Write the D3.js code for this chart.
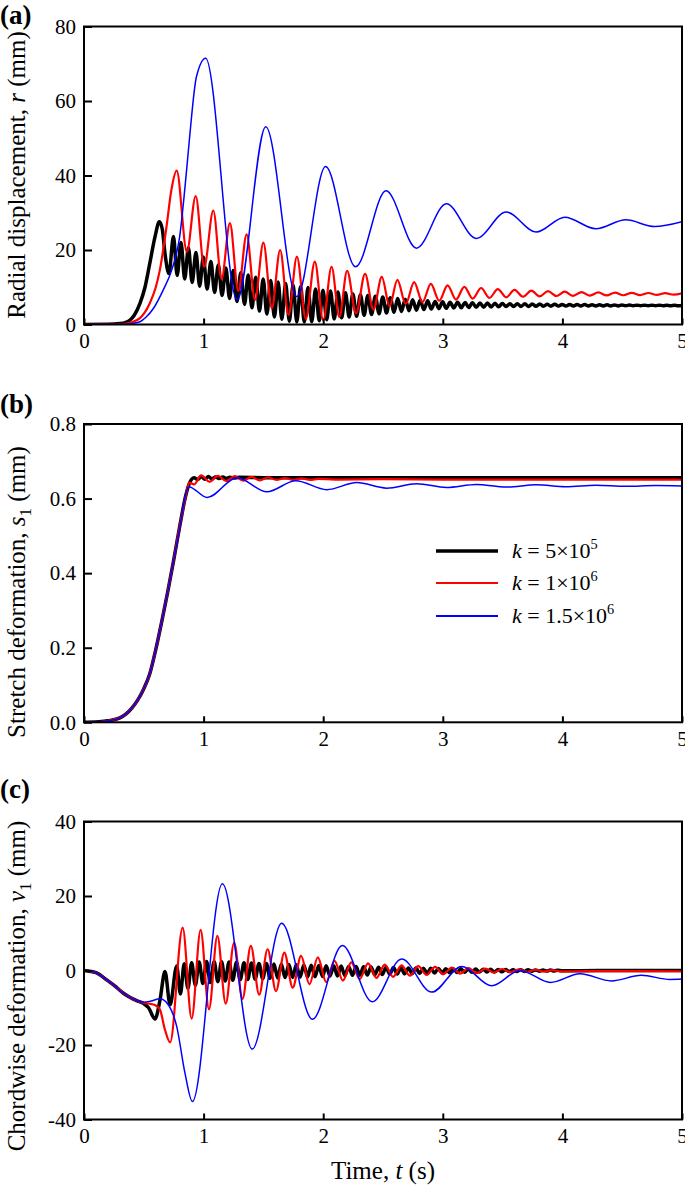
<!DOCTYPE html>
<html><head><meta charset="utf-8">
<script src="https://cdn.jsdelivr.net/npm/d3@7"></script>
<style>
body{margin:0;background:#fff;}
svg{display:block;}
text{font-family:"Liberation Serif","Times New Roman",serif;fill:#000;}
</style>
</head><body>
<svg id="chart" width="685" height="1192"></svg>
<script>
// ---------------- data ----------------
const timeTicks = [0, 1, 2, 3, 4, 5];
const rTicks = [0, 20, 40, 60, 80];
const sTicks = [0, 0.2, 0.4, 0.6, 0.8];
const vTicks = [-40, -20, 0, 20, 40];
const seriesLabels = [
  {pre: "5×10", sup: "5"},
  {pre: "1×10", sup: "6"},
  {pre: "1.5×10", sup: "6"}
];

// (a) radial displacement r (mm) : [t, r]
const rBlack = [[0,0],[0.2,0.05],[0.3,0.25],[0.35,0.6],[0.385,1.2],[0.42,2.5],[0.468,5.7],[0.51,10],[0.55,16.4],[0.594,23.6],[0.63,27.6],[0.655,25.5],[0.677,19.1],[0.71,13.7],
[0.748,23.6],[0.779,13.2],[0.811,22.0],[0.842,12.2],[0.873,20.6],[0.904,11.3],[0.936,19.3],[0.967,10.3],[0.998,18.1],[1.029,9.5],[1.061,16.9],[1.092,8.6],[1.123,16.0],[1.154,7.8],[1.186,15.2],[1.217,7.0],[1.248,14.5],[1.279,6.2],[1.311,13.9],[1.342,5.4],[1.373,13.3],[1.404,4.5],[1.436,12.7],[1.467,3.6],[1.498,12.2],[1.529,2.8],[1.561,11.8],[1.592,2.0],[1.623,11.4],[1.654,1.4],[1.686,11.0],[1.717,0.9],[1.748,10.6],[1.779,0.7],[1.811,10.2],[1.842,0.7],[1.873,9.9],[1.904,0.8],[1.936,9.5],[1.967,1.0],[1.998,9.2],[2.029,1.3],[2.061,9.0],[2.092,1.5],[2.123,8.7],[2.154,1.8],[2.186,8.5],[2.217,2.0],[2.248,8.2],[2.279,2.2],[2.311,8.0],[2.342,2.5],[2.373,7.8],[2.404,2.7],[2.436,7.6],[2.467,2.9],[2.498,7.4],[2.529,3.1],[2.561,7.2],[2.592,3.3],[2.623,7.0],[2.654,3.5],[2.686,6.8],[2.717,3.7],[2.748,6.65],[2.779,3.85],[2.811,6.5],[2.842,4.0],[2.873,6.35],[2.904,4.15],[2.936,6.2],[2.967,4.25],[2.998,6.1],[3.029,4.35],[3.061,6.0],[3.092,4.45],[3.123,5.95],[3.154,4.5],[3.186,5.9],[3.217,4.55],[3.248,5.85],[3.279,4.6],[3.311,5.8],[3.342,4.65],[3.373,5.75],[3.404,4.7],[3.436,5.7],[3.467,4.75],[3.498,5.65],[3.529,4.8],[3.561,5.6],[3.592,4.8],[3.623,5.6],[3.654,4.85],[3.686,5.55],[3.717,4.85],[3.748,5.5],[3.779,4.9],[3.811,5.5],[3.842,4.9],[3.873,5.45],[3.904,4.9],[3.936,5.45],[3.967,4.95],[3.998,5.4],[4.029,4.95],[4.061,5.4],[4.092,4.95],[4.123,5.35],[4.154,5.0],[4.186,5.35],[4.217,5.0],[4.248,5.3],[4.279,5.0],[4.311,5.3],[4.342,5.0],[4.373,5.3],[4.404,5.0],[4.436,5.25],[4.467,5.0],[4.498,5.25],[4.529,5.05],[4.561,5.25],[4.592,5.05],[4.623,5.2],[4.654,5.05],[4.686,5.2],[4.717,5.05],[4.748,5.2],[4.779,5.05],[4.811,5.2],[4.842,5.05],[4.873,5.15],[4.904,5.05],[4.936,5.15],[4.967,5.05],[5.0,5.12]];

const rRed = [[0,0],[0.3,0.1],[0.4,0.6],[0.468,1.7],[0.51,3.3],[0.55,5.7],[0.6,10],[0.634,14.6],[0.69,26.3],[0.73,36],[0.775,41.3],[0.86,19.5],[0.934,34.5],[1.005,15.5],[1.081,30.6],[1.15,12.2],[1.22,27.2],[1.29,9.0],[1.36,24.2],[1.43,6.6],[1.50,22.0],[1.57,4.4],[1.64,20.0],[1.71,2.6],[1.78,18.2],[1.855,1.5],[1.93,16.9],[2.0,1.1],[2.07,15.5],[2.135,2.0],[2.20,14.4],[2.275,3.0],[2.35,13.6],[2.42,4.0],[2.49,12.8],[2.555,4.9],[2.62,12.0],[2.69,5.5],[2.76,11.4],[2.83,6.0],[2.90,10.9],[2.97,6.4],[3.04,10.5],[3.11,6.7],[3.18,10.1],[3.25,6.95],[3.32,9.8],[3.39,7.15],[3.46,9.5],[3.53,7.3],[3.60,9.3],[3.67,7.45],[3.74,9.1],[3.81,7.55],[3.88,8.95],[3.95,7.65],[4.02,8.8],[4.09,7.7],[4.16,8.7],[4.23,7.75],[4.30,8.6],[4.37,7.8],[4.44,8.55],[4.51,7.85],[4.58,8.5],[4.65,7.9],[4.72,8.45],[4.79,7.95],[4.86,8.4],[4.93,8.0],[5.0,8.35]];

const rBlue = [[0,0],[0.3,0.05],[0.4,0.3],[0.468,0.75],[0.52,2],[0.58,4.3],[0.663,9.3],[0.733,14.6],[0.8,23.6],[0.858,41.5],[0.886,51.3],[0.94,66.5],[1.017,71.5],[1.28,6.6],[1.52,53.1],[1.78,7.5],[2.02,42.4],[2.27,15.5],[2.525,35.9],[2.78,20.5],[3.03,32.4],[3.28,23.1],[3.53,30.2],[3.78,24.8],[4.02,28.8],[4.28,25.7],[4.53,28.1],[4.77,26.3],[5.0,27.6]];

// (b) stretch deformation s1 (mm)
const sBlack = [[0,0],[0.1,0.0005],[0.2,0.004],[0.3,0.012],[0.35,0.022],[0.4,0.038],[0.45,0.06],[0.5,0.09],[0.55,0.13],[0.6,0.195],[0.65,0.27],[0.7,0.35],[0.75,0.435],[0.8,0.525],[0.85,0.607],[0.88,0.64],[0.92,0.656],[0.95,0.651],[0.98,0.659],[1.01,0.652],[1.04,0.659],[1.07,0.653],[1.1,0.658],[1.13,0.654],[1.16,0.658],[1.19,0.654],[1.22,0.657],[1.25,0.655],[1.3,0.657],[1.5,0.656],[5,0.656]];

const sRed = [[0,0],[0.1,0.0005],[0.2,0.004],[0.3,0.012],[0.35,0.022],[0.4,0.038],[0.45,0.06],[0.5,0.09],[0.55,0.13],[0.6,0.195],[0.65,0.27],[0.7,0.35],[0.75,0.435],[0.8,0.525],[0.85,0.605],[0.88,0.643],[0.92,0.638],[0.98,0.662],[1.05,0.645],[1.12,0.661],[1.19,0.647],[1.26,0.66],[1.33,0.648],[1.40,0.658],[1.47,0.649],[1.54,0.657],[1.61,0.650],[1.68,0.655],[1.75,0.650],[1.82,0.654],[1.89,0.650],[1.96,0.653],[2.1,0.651],[2.5,0.652],[3.0,0.651],[5.0,0.651]];

const sBlue = [[0,0],[0.1,0.0005],[0.2,0.004],[0.3,0.012],[0.35,0.022],[0.4,0.038],[0.45,0.06],[0.5,0.09],[0.55,0.13],[0.6,0.195],[0.65,0.27],[0.7,0.35],[0.75,0.435],[0.8,0.52],[0.84,0.595],[0.875,0.632],[1.03,0.603],[1.28,0.656],[1.53,0.618],[1.77,0.648],[2.03,0.624],[2.28,0.643],[2.53,0.628],[2.78,0.640],[3.03,0.630],[3.28,0.638],[3.53,0.631],[3.78,0.637],[4.03,0.632],[4.28,0.636],[4.53,0.633],[4.78,0.635],[5.0,0.634]];

// (c) chordwise deformation v1 (mm)
const vBlack = [[0,0],[0.1,-0.6],[0.19,-2.5],[0.26,-4.2],[0.33,-6.1],[0.39,-7.3],[0.44,-8.1],[0.5,-8.9],[0.54,-10],[0.594,-13.0],[0.635,-8],[0.677,-0.3],[0.72,-9.2],[0.775,1.2],[0.806,-6.3],[0.838,1.8],[0.869,-4.8],[0.9,2.1],[0.931,-4.0],[0.963,2.3],[0.994,-3.5],[1.025,2.4],[1.056,-3.2],[1.088,2.4],[1.119,-3.0],[1.15,2.35],[1.181,-2.8],[1.213,2.3],[1.244,-2.65],[1.275,2.2],[1.306,-2.5],[1.338,2.1],[1.369,-2.4],[1.4,2.0],[1.431,-2.3],[1.463,1.9],[1.494,-2.2],[1.525,1.85],[1.556,-2.1],[1.588,1.75],[1.619,-2.0],[1.65,1.7],[1.681,-1.9],[1.713,1.6],[1.744,-1.85],[1.775,1.55],[1.806,-1.8],[1.838,1.5],[1.869,-1.7],[1.9,1.4],[1.931,-1.65],[1.963,1.35],[1.994,-1.6],[2.025,1.3],[2.056,-1.5],[2.088,1.25],[2.119,-1.45],[2.15,1.2],[2.181,-1.4],[2.213,1.1],[2.244,-1.3],[2.275,1.05],[2.306,-1.25],[2.338,1.0],[2.369,-1.2],[2.4,0.95],[2.431,-1.15],[2.463,0.9],[2.494,-1.1],[2.525,0.85],[2.556,-1.0],[2.588,0.8],[2.619,-0.95],[2.65,0.75],[2.681,-0.9],[2.713,0.7],[2.744,-0.85],[2.775,0.65],[2.806,-0.8],[2.838,0.62],[2.869,-0.75],[2.9,0.58],[2.931,-0.7],[2.963,0.55],[2.994,-0.65],[3.025,0.5],[3.056,-0.6],[3.088,0.47],[3.119,-0.55],[3.15,0.44],[3.181,-0.5],[3.213,0.4],[3.244,-0.47],[3.275,0.37],[3.306,-0.43],[3.338,0.34],[3.369,-0.4],[3.4,0.31],[3.431,-0.37],[3.463,0.28],[3.494,-0.34],[3.525,0.25],[3.556,-0.3],[3.588,0.22],[3.619,-0.27],[3.65,0.2],[3.681,-0.24],[3.713,0.18],[3.744,-0.21],[3.775,0.16],[3.806,-0.18],[3.838,0.14],[3.869,-0.15],[3.9,0.12],[3.931,-0.12],[3.963,0.1],[3.994,-0.1],[4.3,0],[5,0]];

const vRed = [[0,0],[0.1,-0.6],[0.19,-2.5],[0.26,-4.2],[0.33,-6.1],[0.39,-7.3],[0.44,-8.1],[0.5,-8.7],[0.56,-9.0],[0.6,-9.4],[0.635,-10.5],[0.677,-15.9],[0.72,-19.3],[0.825,11.5],[0.90,-12.9],[0.975,10.9],[1.045,-10.4],[1.115,9.3],[1.185,-8.9],[1.255,7.5],[1.325,-7.6],[1.395,6.6],[1.465,-6.5],[1.535,5.7],[1.605,-5.5],[1.675,4.8],[1.745,-4.6],[1.815,3.9],[1.885,-3.7],[1.955,3.5],[2.025,-3.1],[2.095,2.6],[2.165,-2.7],[2.235,2.2],[2.305,-2.3],[2.375,1.9],[2.445,-2.0],[2.515,1.6],[2.585,-1.7],[2.655,1.4],[2.725,-1.4],[2.795,1.2],[2.865,-1.2],[2.935,1.0],[3.005,-1.0],[3.075,0.8],[3.145,-0.85],[3.215,0.65],[3.285,-0.7],[3.355,0.5],[3.425,-0.55],[3.495,0.4],[3.565,-0.45],[3.635,0.3],[3.705,-0.35],[3.775,0.2],[3.845,-0.3],[3.915,0.1],[3.985,-0.25],[4.2,-0.15],[5,-0.2]];

const vBlue = [[0,0],[0.1,-0.6],[0.19,-2.5],[0.26,-4.2],[0.33,-6.1],[0.39,-7.3],[0.44,-8.1],[0.5,-8.5],[0.56,-8.2],[0.635,-7.6],[0.7,-9],[0.775,-15],[0.844,-27.5],[0.906,-35.2],[1.157,23.3],[1.407,-21.1],[1.653,12.7],[1.91,-13.1],[2.16,6.7],[2.41,-8.4],[2.656,3.1],[2.907,-5.8],[3.158,1.1],[3.409,-4.1],[3.645,0],[3.90,-3.2],[4.147,-0.9],[4.41,-2.8],[4.66,-1.3],[4.9,-2.4],[5.0,-2.3]];

// ---------------- drawing ----------------
const FONT = "'Liberation Serif','Times New Roman',serif";
const X0 = 84, X1 = 682;
const colors = ["#000000", "#ff0000", "#0000ff"];
const widths = [3.5, 2.2, 1.5];
const tickFont = 21, titleFont = 25;

const svg = d3.select("#chart");
const x = d3.scaleLinear().domain([0, 5]).range([X0, X1]);

const panels = [
  {id:"a", label:"(a)", labelY:24, top:26.5, bottom:324.5, domain:[0,80], ticks:rTicks, fmt:d=>String(d),
   titleY:175, series:[rBlack, rRed, rBlue],
   title:[{t:"Radial displacement, "},{t:"r",i:true},{t:" (mm)"}]},
  {id:"b", label:"(b)", labelY:413, top:424, bottom:722.3, domain:[0,0.8], ticks:sTicks, fmt:d3.format(".1f"),
   titleY:592, series:[sBlack, sRed, sBlue],
   title:[{t:"Stretch deformation, "},{t:"s",i:true},{t:"1",sub:true},{t:" (mm)"}]},
  {id:"c", label:"(c)", labelY:798, top:821.5, bottom:1119.5, domain:[-40,40], ticks:vTicks, fmt:d=>String(d),
   titleY:986, series:[vBlack, vRed, vBlue],
   title:[{t:"Chordwise deformation, "},{t:"v",i:true},{t:"1",sub:true},{t:" (mm)"}]}
];

function addParts(textSel, parts, size) {
  parts.forEach((p, i) => {
    const ts = textSel.append("tspan").text(p.t);
    if (p.i) ts.style("font-style", "italic");
    if (p.sub) {
      ts.style("font-size", (size * 0.68) + "px").attr("dy", size * 0.22);
    } else if (i > 0 && parts[i-1].sub) {
      ts.attr("dy", -size * 0.22);
    }
  });
}

panels.forEach(p => {
  const y = d3.scaleLinear().domain(p.domain).range([p.bottom, p.top]);
  const g = svg.append("g");

  g.append("clipPath").attr("id", "clip-" + p.id)
    .append("rect").attr("x", X0).attr("y", p.top).attr("width", X1 - X0).attr("height", p.bottom - p.top);

  // series
  const line = d3.line().x(d => x(d[0])).y(d => y(d[1])).curve(d3.curveMonotoneX);
  const lg = g.append("g").attr("clip-path", "url(#clip-" + p.id + ")");
  p.series.forEach((s, i) => {
    lg.append("path").datum(s).attr("d", line)
      .attr("fill", "none").attr("stroke", colors[i]).attr("stroke-width", widths[i])
      .attr("stroke-linejoin", "round");
  });

  // axes
  const ax = g.append("g").attr("transform", `translate(0,${p.bottom})`)
    .call(d3.axisBottom(x).tickValues(timeTicks).tickSize(-6).tickPadding(9).tickFormat(d3.format("d")));
  const ay = g.append("g").attr("transform", `translate(${X0},0)`)
    .call(d3.axisLeft(y).tickValues(p.ticks).tickSize(-8).tickPadding(8).tickFormat(p.fmt));
  [ax, ay].forEach(a => {
    a.attr("font-family", null).attr("font-size", null);
    a.select(".domain").remove();
    a.selectAll(".tick line").attr("stroke", "#000").attr("stroke-width", 2);
    a.selectAll(".tick text").style("font-size", tickFont + "px").style("font-family", FONT).attr("fill", "#000");
  });

  // frame
  g.append("rect").attr("x", X0).attr("y", p.top).attr("width", X1 - X0).attr("height", p.bottom - p.top)
    .attr("fill", "none").attr("stroke", "#000").attr("stroke-width", 2);

  // panel label
  g.append("text").attr("x", 0).attr("y", p.labelY)
    .style("font-size", "27px").style("font-weight", "bold").style("font-family", FONT).text(p.label);

  // y title
  const yt = g.append("text").attr("transform", `translate(25,${p.titleY}) rotate(-90)`)
    .attr("text-anchor", "middle").style("font-size", titleFont + "px").style("font-family", FONT);
  addParts(yt, p.title, titleFont);
});

// x title
const xt = svg.append("text").attr("x", (X0 + X1) / 2).attr("y", 1179)
  .attr("text-anchor", "middle").style("font-size", titleFont + "px").style("font-family", FONT);
addParts(xt, [{t:"Time, "},{t:"t",i:true},{t:" (s)"}], titleFont);

// legend (in panel b)
const legX1 = 436, legX2 = 498, legTextX = 512;
const legY = [551, 583, 616];
const legFont = 22;
const leg = svg.append("g");
seriesLabels.forEach((s, i) => {
  leg.append("line").attr("x1", legX1).attr("x2", legX2).attr("y1", legY[i]).attr("y2", legY[i])
    .attr("stroke", colors[i]).attr("stroke-width", widths[i] + (i === 2 ? 0.3 : 0));
  const t = leg.append("text").attr("x", legTextX).attr("y", legY[i] + 7)
    .style("font-size", legFont + "px").style("font-family", FONT);
  t.append("tspan").style("font-style", "italic").text("k");
  t.append("tspan").text(" = " + s.pre);
  t.append("tspan").style("font-size", (legFont * 0.65) + "px").attr("dy", -9).text(s.sup);
});
</script>
</body></html>
